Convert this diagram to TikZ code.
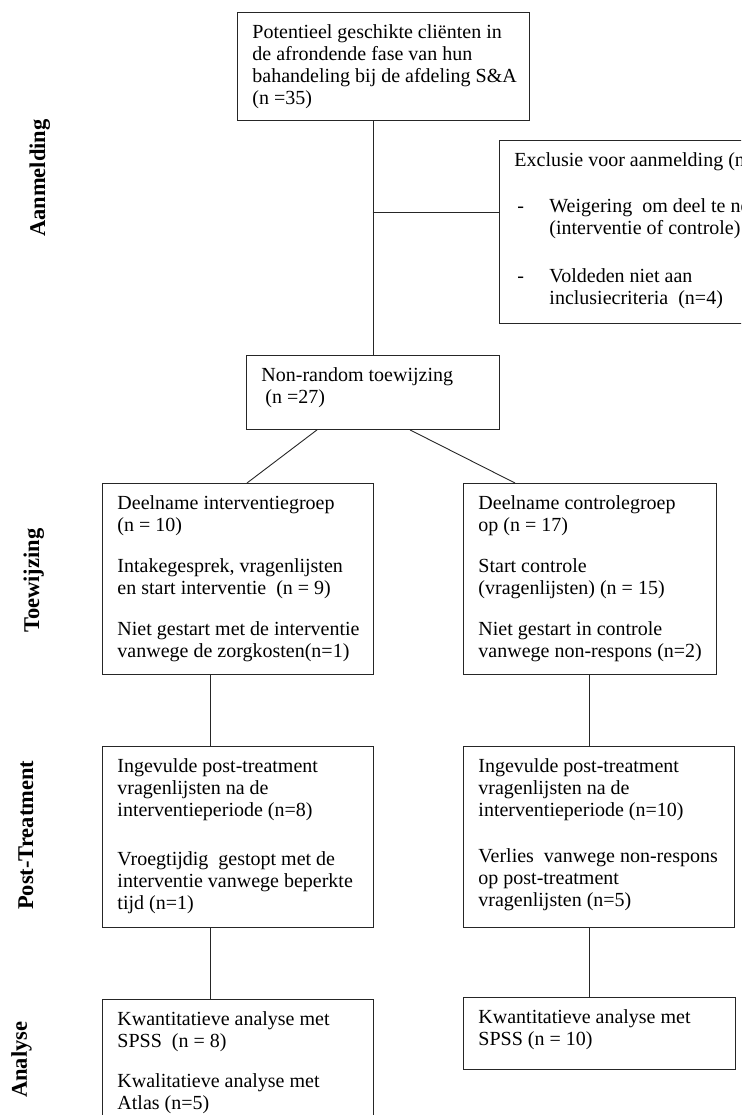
\documentclass[tikz,border=0pt]{standalone}
\usepackage{fontspec}
\setmainfont{Liberation Serif}
\usetikzlibrary{calc}
\newcommand\boxtext[3]{\parbox[c][#2][t]{#1}{\raggedright\leftskip=15pt\parindent=0pt\rule{0pt}{26.5pt}#3}}
\tikzset{
  box/.style={draw=black!85, line width=0.9pt, inner sep=0pt, anchor=north west, align=left},
  conn/.style={draw=black!85, line width=0.9pt},
  side/.style={rotate=90, anchor=base west, inner sep=0pt, font=\fontsize{22.5}{26}\selectfont\bfseries}
}
\begin{document}
\begin{tikzpicture}[x=1pt,y=1pt,font=\fontsize{20}{22}\selectfont]
\useasboundingbox (0,0) rectangle (741,-1115);
\clip (0,0) rectangle (741,-1115);

% side labels
\node[side] (s1) at (45,-237) {Aanmelding};
\node[side] (s2) at (39,-633) {Toewijzing};
\node[side] (s3) at (33,-910) {Post-Treatment};
\node[side] (s4) at (27,-1098) {Analyse};

% boxes
\node[box, minimum width=292pt, minimum height=108pt] (tb) at (237,-12)
  {\boxtext{292pt}{108pt}{Potentieel geschikte cliënten in\\ de afrondende fase van hun\\ bahandeling bij de afdeling S\&A\\ (n =35)}};

\node[box, minimum width=300pt, minimum height=183pt] (ex) at (499,-140)
  {\boxtext{300pt}{183pt}{Exclusie voor aanmelding (n\\[24pt]
   \makebox[35pt][l]{\hspace{3pt}-}Weigering~ om deel te ne\\
   \hspace*{35pt}(interventie of controle)\\[26pt]
   \makebox[35pt][l]{\hspace{3pt}-}Voldeden niet aan\\
   \hspace*{35pt}inclusiecriteria~ (n=4)}};

\node[box, minimum width=253pt, minimum height=74pt] (nr) at (246,-355)
  {\boxtext{253pt}{74pt}{Non-random toewijzing\\ \hspace*{4pt}(n =27)}};

\node[box, minimum width=271pt, minimum height=191pt] (lg) at (102,-483)
  {\boxtext{271pt}{191pt}{Deelname interventiegroep\\ (n = 10)\\[19pt]
   Intakegesprek, vragenlijsten\\ en start interventie~ (n = 9)\\[19pt]
   Niet gestart met de interventie\\ vanwege de zorgkosten(n=1)}};

\node[box, minimum width=253pt, minimum height=191pt] (rg) at (463,-483)
  {\boxtext{253pt}{191pt}{Deelname controlegroep\\ op (n = 17)\\[19pt]
   Start controle\\ (vragenlijsten) (n = 15)\\[19pt]
   Niet gestart in controle\\ vanwege non-respons (n=2)}};

\node[box, minimum width=271pt, minimum height=181pt] (pl) at (102,-746)
  {\boxtext{271pt}{181pt}{Ingevulde post-treatment\\ vragenlijsten na de\\ interventieperiode (n=8)\\[27pt]
   Vroegtijdig~ gestopt met de\\ interventie vanwege beperkte\\ tijd (n=1)}};

\node[box, minimum width=271pt, minimum height=181pt] (pr) at (463,-746)
  {\boxtext{271pt}{181pt}{Ingevulde post-treatment\\ vragenlijsten na de\\ interventieperiode (n=10)\\[24pt]
   Verlies~ vanwege non-respons\\ op post-treatment\\ vragenlijsten (n=5)}};

\node[box, minimum width=271pt, minimum height=140pt] (al) at (102,-999)
  {\boxtext{271pt}{140pt}{Kwantitatieve analyse met\\ SPSS~ (n = 8)\\[18pt]
   Kwalitatieve analyse met\\ Atlas (n=5)}};

\node[box, minimum width=272pt, minimum height=72pt] (ar) at (463,-997)
  {\boxtext{272pt}{72pt}{Kwantitatieve analyse met\\ SPSS (n = 10)}};

% connectors
\draw[conn] (tb.south -| nr.north) -- (nr.north);
\coordinate (j) at (372.5,-212);
\draw[conn] (j) -- (j -| ex.west);
\draw[conn] ($(nr.south west)+(71,0)$) -- ($(lg.north west)+(145,0)$);
\draw[conn] ($(nr.south west)+(164,0)$) -- ($(rg.north west)+(52,0)$);
\draw[conn] ($(lg.south west)+(108,0)$) -- ($(pl.north west)+(108,0)$);
\draw[conn] ($(rg.south west)+(126,0)$) -- ($(pr.north west)+(126,0)$);
\draw[conn] ($(pl.south west)+(108,0)$) -- ($(al.north west)+(108,0)$);
\draw[conn] ($(pr.south west)+(126,0)$) -- ($(ar.north west)+(126,0)$);
\end{tikzpicture}
\end{document}
